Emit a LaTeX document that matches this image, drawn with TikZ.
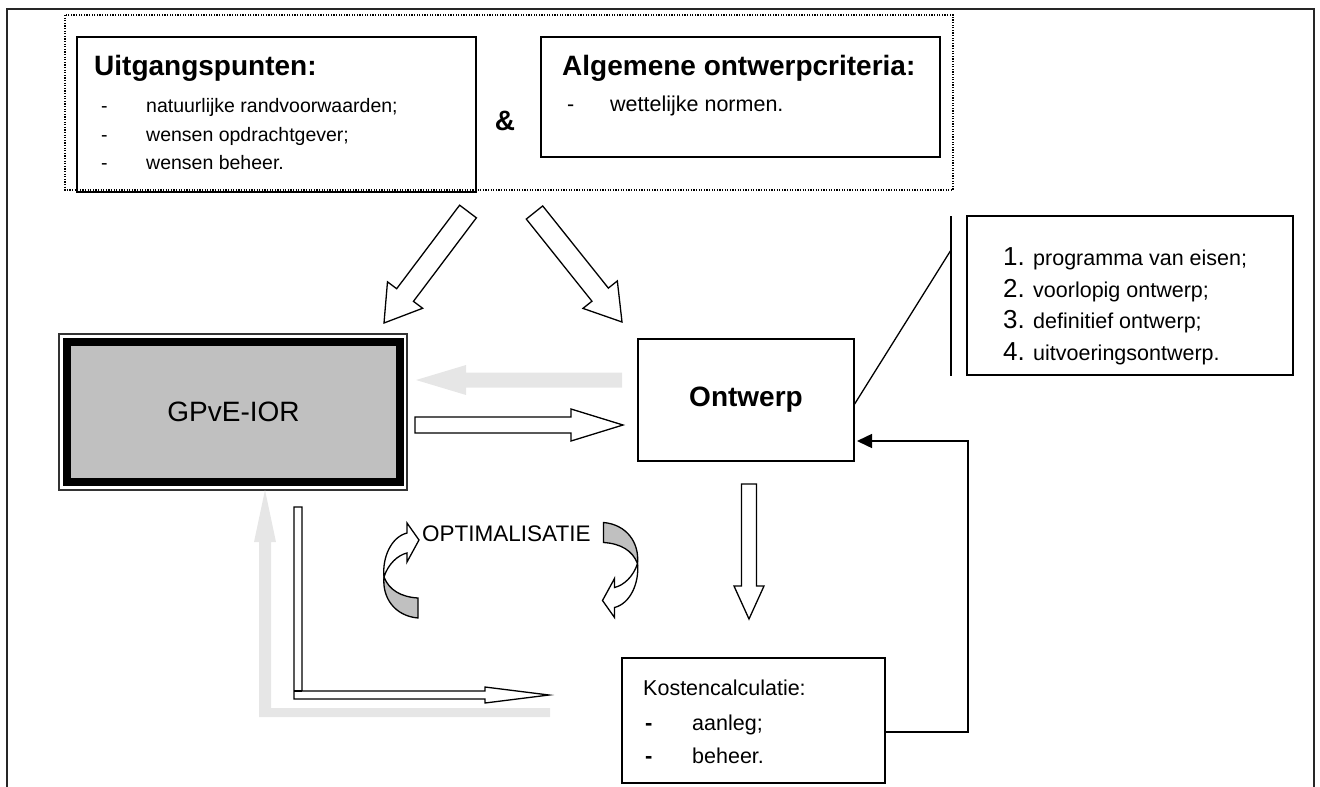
\documentclass[tikz,border=0pt]{standalone}
\usepackage{fontspec}
\setmainfont{Liberation Sans}
\usetikzlibrary{calc,arrows.meta,fit}
\definecolor{lgray}{HTML}{E6E6E6}
\definecolor{boxgray}{HTML}{C0C0C0}
\newcommand\fs[1]{\fontsize{#1}{#1}\selectfont}
\newcommand\blockarr[6]{%
  \coordinate (ba-s) at #2;
  \coordinate (ba-e) at #3;
  \coordinate (ba-h) at ($(ba-e)!#6!(ba-s)$);
  \path[#1] ($(ba-s)!#4!90:(ba-e)$) -- ($(ba-h)!#4!90:(ba-e)$) -- ($(ba-h)!#5!90:(ba-e)$) -- (ba-e) -- ($(ba-h)!#5!-90:(ba-e)$) -- ($(ba-h)!#4!-90:(ba-e)$) -- ($(ba-s)!#4!-90:(ba-e)$) -- cycle;
}
\tikzset{
  box/.style={draw=black, line width=1.7pt, inner sep=0pt},
  txt/.style={inner sep=0pt, anchor=base west},
  ttl/.style={txt, font=\fs{28}\bfseries},
  itm/.style={txt, font=\fs{21.5}},
  itms/.style={txt, font=\fs{19.5}},
  num/.style={txt, font=\fs{26}},
  barrow/.style={draw=black, line width=1.3pt, fill=white, line join=miter},
  garrow/.style={fill=lgray, draw=none},
  curvarr/.pic={
    \draw[line width=1.3pt, fill=boxgray] (-17,7) .. controls (-19,28) and (-6,46) .. (17,48) -- (17,28) .. controls (0,27) and (-12,20) .. (-17,7) -- cycle;
    \draw[line width=1.3pt, fill=white, line join=miter] (-17,7) .. controls (-19,-12) and (-10,-33) .. (6,-37) -- (6,-47) -- (18,-30) -- (6,-8) -- (6,-17) .. controls (-3,-15) and (-13,-6) .. (-17,7) -- cycle;
  }
}
\begin{document}
\begin{tikzpicture}[x=1pt,y=-1pt]
\useasboundingbox (0,0) rectangle (1320,787);
% outer frame
\draw[line width=2pt, draw=black!85] (7,790) -- (7,9) -- (1314,9) -- (1314,790);
% dotted group
\draw[line width=1.2pt, dash pattern=on 1.2pt off 1.4pt] (65,15) rectangle (953,190);
% top boxes
\node[box, fit={(77,37)(476,192)}] (uitg) {};
\node[box, fit={(541,37)(940,157)}] (alg) {};
\node[ttl] (uitgT) at (94,75) {Uitgangspunten:};
\node[itms] (u1d) at (101,112) {-};
\node[itms] (u1) at (146,112) {natuurlijke randvoorwaarden;};
\node[itms] (u2d) at (101,141) {-};
\node[itms] (u2) at (146,141) {wensen opdrachtgever;};
\node[itms] (u3d) at (101,169) {-};
\node[itms] (u3) at (146,169) {wensen beheer.};
\node[ttl] (algT) at (562,75) {Algemene ontwerpcriteria:};
\node[itm] (a1d) at (567,111) {-};
\node[itm] (a1) at (610,111) {wettelijke normen.};
\node[inner sep=0pt, anchor=base, font=\fs{28}\bfseries] (amp) at (505,130) {\&};
% diagonal block arrows
\coordinate (dL1) at (468,211.5); \coordinate (dL2) at (384,323);
\coordinate (dR1) at (534.5,212.5); \coordinate (dR2) at (622,322);
\blockarr{barrow}{(dL1)}{(dL2)}{10.5pt}{22pt}{35pt}
\blockarr{barrow}{(dR1)}{(dR2)}{10.5pt}{22pt}{35pt}
% GPvE box
\draw[line width=1.5pt, draw=black!80] (59,334) rectangle (407,490);
\node[draw=black, line width=8pt, fill=boxgray, inner sep=0pt, fit={(67,342)(400,482)}] (gpve) {};
\node[font=\fs{28}, inner sep=0pt] (gpveT) at (gpve.center) {GPvE-IOR};
% Ontwerp
\node[box, fit={(638,339)(854,461)}] (ontw) {};
\node[font=\fs{28}\bfseries, inner sep=0pt] (ontwT) at (ontw.center) {Ontwerp};
% horizontal arrows
\coordinate (gA1) at (622,380); \coordinate (gA2) at (416,380);
\blockarr{garrow}{(gA1)}{(gA2)}{7.5pt}{15pt}{50pt}
\coordinate (wA1) at (415,425); \coordinate (wA2) at (623,425);
\blockarr{barrow}{(wA1)}{(wA2)}{8pt}{16pt}{52pt}
% list box
\node[box, fit={(967,216)(1293,375)}] (list) {};
\draw[line width=2pt] (951,216) coordinate (vl1) -- (951,376) coordinate (vl2);
\coordinate (sl1) at (854,405); \coordinate (sl2) at (951,250);
\draw[line width=1.3pt] (sl1) -- (sl2);
\node[num] (n1) at (1003,265) {1.}; \node[itm] (i1) at (1033,265) {programma van eisen;};
\node[num] (n2) at (1003,297) {2.}; \node[itm] (i2) at (1033,297) {voorlopig ontwerp;};
\node[num] (n3) at (1003,328) {3.}; \node[itm] (i3) at (1033,328) {definitief ontwerp;};
\node[num] (n4) at (1003,360) {4.}; \node[itm] (i4) at (1033,360) {uitvoeringsontwerp.};
% down arrow
\coordinate (dn1) at (749,484); \coordinate (dn2) at (749,619);
\blockarr{barrow}{(dn1)}{(dn2)}{7.5pt}{15pt}{33pt}
% Kosten box
\node[box, fit={(622,658)(885,783)}] (kost) {};
\node[itm] (k0) at (643,695) {Kostencalculatie:};
\node[itm, font=\fs{22}\bfseries] (k1d) at (645,730) {-};
\node[itm] (k1) at (692,730) {aanleg;};
\node[itm, font=\fs{22}\bfseries] (k2d) at (645,763) {-};
\node[itm] (k2) at (692,763) {beheer.};
% feedback
\coordinate (fb1) at (885,732); \coordinate (fb2) at (968,732);
\coordinate (fb3) at (968,441); \coordinate (fb4) at (857,441);
\draw[line width=1.5pt, -{Triangle[length=15pt,width=14pt]}] (fb1) -- (fb2) -- (fb3) -- (fb4);
% gray L arrow
\fill[lgray] (259,717) -- (550,717) -- (550,708) -- (271,708) -- (271,542) -- (276,542) -- (265,490) -- (254,542) -- (259,542) -- cycle;
% white L arrow
\draw[barrow] (294,507) -- (302,507) -- (302,691) -- (485,691) -- (485,687) -- (549,695) -- (485,703) -- (485,699) -- (294,699) -- cycle;
\draw[line width=1.3pt] (294,691) -- (302,691);
% optimalisatie
\node[txt, font=\fs{22.5}] (opt) at (422,541) {OPTIMALISATIE};
\pic at (401,570) {curvarr};
\pic[rotate=180] at (620.5,570.5) {curvarr};
\end{tikzpicture}
\end{document}
